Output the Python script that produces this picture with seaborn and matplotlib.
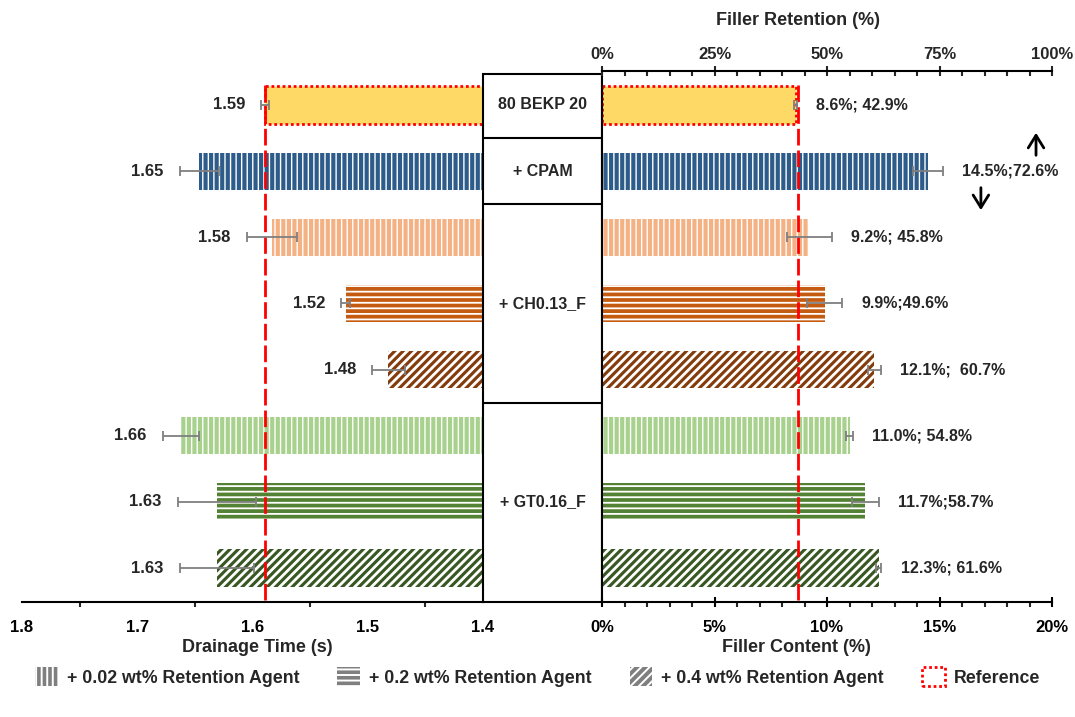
import numpy as np
import pandas as pd
import matplotlib
matplotlib.use("Agg")
import matplotlib.pyplot as plt
import seaborn as sns
from matplotlib.patches import Patch, Rectangle
from matplotlib.ticker import MultipleLocator, FuncFormatter

# ---------------- data ----------------
row_ids = ["ref", "cpam", "ch_002", "ch_02", "ch_04", "gt_002", "gt_02", "gt_04"]
group_labels = ["80 BEKP 20", "+ CPAM", "+ CH0.13_F", "+ GT0.16_F"]
group_spans = [(0, 0), (1, 1), (2, 4), (5, 7)]
drain_time = [1.589, 1.646, 1.583, 1.519, 1.482, 1.662, 1.631, 1.631]
drain_err = [0.0035, 0.017, 0.022, 0.004, 0.014, 0.016, 0.034, 0.032]
filler_content = [8.6, 14.5, 9.2, 9.9, 12.1, 11.0, 11.7, 12.3]
filler_err = [0.05, 0.67, 1.0, 0.77, 0.3, 0.15, 0.6, 0.12]
filler_retention = [42.9, 72.6, 45.8, 49.6, 60.7, 54.8, 58.7, 61.6]
label_seps = ["; ", ";", "; ", ";", ";  ", "; ", ";", "; "]
bar_colors = ["#FFD966", "#2E5C8A", "#F4B183", "#C55A11", "#843C0C",
              "#A9D18E", "#548235", "#385723"]
bar_hatches = [None, "|||", "|||", "---", "////", "|||", "---", "////"]
legend_labels = ["+ 0.02 wt% Retention Agent", "+ 0.2 wt% Retention Agent",
                 "+ 0.4 wt% Retention Agent", "Reference"]
legend_hatches = ["|||", "---", "////"]
ref_time = 1.589
ref_content = 8.7
time_ticks = [1.8, 1.7, 1.6, 1.5, 1.4]
content_ticks = [0, 5, 10, 15, 20]
retention_ticks = [0, 25, 50, 75, 100]

# ---------------- style ----------------
sns.set_style("white")
plt.rcParams["font.family"] = ["Liberation Sans", "DejaVu Sans"]
plt.rcParams["font.weight"] = "bold"
plt.rcParams["hatch.linewidth"] = 1.4

hatch_lw = {"|||": 1.0, "---": 1.3, "////": 2.0}

W, H = 1075, 717
fig = plt.figure(figsize=(W / 100, H / 100), dpi=100)
ax_bottom = (H - 602) / H
ax_height = (602 - 71) / H
ax_l = fig.add_axes([22 / W, ax_bottom, (483 - 22) / W, ax_height])
ax_c = fig.add_axes([483 / W, ax_bottom, (602 - 483) / W, ax_height])
ax_r = fig.add_axes([602 / W, ax_bottom, (1052 - 602) / W, ax_height])

ylim = (7.514, -0.514)
bar_width = 0.56
ypos = np.arange(len(row_ids))

df = pd.DataFrame({"row": row_ids, "time": drain_time, "content": filler_content})


def style_bars(ax):
    patches = sorted(ax.patches, key=lambda p: p.get_y())
    for p, col, h in zip(patches, bar_colors, bar_hatches):
        p.set_facecolor(col)
        if h is None:
            p.set_edgecolor("#FF0000")
            p.set_linestyle((0, (1, 1)))
            p.set_linewidth(2)
        else:
            p.set_edgecolor("white")
            p.set_linewidth(0)
            p.set_hatch(h)
            if hasattr(p, "set_hatch_linewidth"):
                p.set_hatch_linewidth(hatch_lw[h])


# ---------------- left: drainage time ----------------
sns.barplot(data=df, x="time", y="row", hue="row", order=row_ids, hue_order=row_ids,
            palette=bar_colors, legend=False, errorbar=None, orient="h",
            width=bar_width, saturation=1, ax=ax_l)
style_bars(ax_l)
ax_l.errorbar(drain_time, ypos, xerr=drain_err, fmt="none", ecolor="#7F7F7F",
              elinewidth=1.3, capsize=3.5, capthick=1.3, zorder=6)
ax_l.axvline(ref_time, ymin=0.004, ymax=0.983, color="#FF0000", lw=2,
             linestyle=(0, (6, 1.8)), zorder=5)
for t, e, y in zip(drain_time, drain_err, ypos):
    ax_l.text(t + e + 0.014, y, f"{t:.2f}", ha="right", va="center",
              fontsize=12, fontweight="bold")
ax_l.set_xlim(1.8, 1.4)
ax_l.set_ylim(*ylim)
ax_l.set_yticks([])
ax_l.set_ylabel("")
ax_l.set_xticks(time_ticks)
ax_l.xaxis.set_major_formatter(FuncFormatter(lambda v, p: f"{v:.1f}"))
ax_l.xaxis.set_minor_locator(MultipleLocator(0.05))
ax_l.set_xlabel("Drainage Time (s)", fontsize=13, fontweight="bold", labelpad=3, x=0.51)
for s in ["top", "left", "right"]:
    ax_l.spines[s].set_visible(False)
ax_l.spines["bottom"].set_linewidth(1.5)
ax_l.spines["bottom"].set_color("black")

# ---------------- right: filler content ----------------
sns.barplot(data=df, x="content", y="row", hue="row", order=row_ids, hue_order=row_ids,
            palette=bar_colors, legend=False, errorbar=None, orient="h",
            width=bar_width, saturation=1, ax=ax_r)
style_bars(ax_r)
ax_r.errorbar(filler_content, ypos, xerr=filler_err, fmt="none", ecolor="#7F7F7F",
              elinewidth=1.3, capsize=3.5, capthick=1.3, zorder=6)
ax_r.axvline(ref_content, ymin=0.004, ymax=0.983, color="#FF0000", lw=2,
             linestyle=(0, (6, 1.8)), zorder=5)
for c, e, r, sep, y in zip(filler_content, filler_err, filler_retention, label_seps, ypos):
    ax_r.text(c + e + 0.85, y, f"{c:.1f}%{sep}{r:.1f}%", ha="left", va="center",
              fontsize=11.5, fontweight="bold")
ax_r.set_xlim(0, 20)
ax_r.set_ylim(*ylim)
ax_r.set_yticks([])
ax_r.set_ylabel("")
ax_r.set_xticks(content_ticks)
ax_r.xaxis.set_major_formatter(FuncFormatter(lambda v, p: f"{v:.0f}%"))
ax_r.xaxis.set_minor_locator(MultipleLocator(1))
ax_r.set_xlabel("Filler Content (%)", fontsize=13, fontweight="bold", labelpad=3, x=0.433)
for s in ["top", "right"]:
    ax_r.spines[s].set_visible(False)
for s in ["bottom", "left"]:
    ax_r.spines[s].set_linewidth(1.5)
    ax_r.spines[s].set_color("black")

# arrows next to CPAM label
arrow_style = "->,head_length=0.45,head_width=0.28"
ax_r.annotate("", xy=(19.29, 0.42), xytext=(19.29, 0.76),
              arrowprops=dict(arrowstyle=arrow_style, lw=2, color="black",
                              mutation_scale=20, shrinkA=0, shrinkB=0))
ax_r.annotate("", xy=(16.84, 1.59), xytext=(16.84, 1.25),
              arrowprops=dict(arrowstyle=arrow_style, lw=2, color="black",
                              mutation_scale=20, shrinkA=0, shrinkB=0))

# top axis: filler retention
ax_t = ax_r.twiny()
ax_t.set_xlim(0, 100)
ax_t.set_xticks(retention_ticks)
ax_t.xaxis.set_major_formatter(FuncFormatter(lambda v, p: f"{v:.0f}%"))
ax_t.xaxis.set_minor_locator(MultipleLocator(5))
ax_t.set_xlabel("Filler Retention (%)", fontsize=13, fontweight="bold", labelpad=16, x=0.435)
for s in ["bottom", "left", "right"]:
    ax_t.spines[s].set_visible(False)
ax_t.spines["top"].set_linewidth(1.5)
ax_t.spines["top"].set_color("black")

for ax in (ax_l, ax_r):
    ax.tick_params(axis="x", which="major", direction="inout", length=7, width=1.5,
                   labelsize=12, pad=9.5, colors="black")
    ax.tick_params(axis="x", which="minor", direction="out", length=3.5, width=1.5,
                   bottom=True)
ax_t.tick_params(axis="x", which="major", direction="inout", length=7, width=1.5,
                 labelsize=12, pad=3)
ax_t.tick_params(axis="x", which="minor", direction="in", length=3.5, width=1.5, top=True)

# ---------------- center: group box ----------------
ax_c.set_xlim(0, 1)
ax_c.set_ylim(*ylim)
ax_c.set_axis_off()
box_top = -0.47
ax_c.add_patch(Rectangle((0, box_top), 1, ylim[0] - box_top, fill=False,
                         edgecolor="black", lw=1.5, clip_on=False))
for (a, b), lab in zip(group_spans, group_labels):
    ax_c.text(0.5, (a + b) / 2, lab, ha="center", va="center",
              fontsize=11.5, fontweight="bold")
for (a, b) in group_spans[:-1]:
    ax_c.plot([0, 1], [b + 0.5, b + 0.5], color="black", lw=1.5, clip_on=False)

# ---------------- legend ----------------
handles = []
for h in legend_hatches:
    p = Patch(facecolor="#7F7F7F", edgecolor="white", linewidth=0, hatch=h)
    handles.append(p)
handles.append(Patch(facecolor="white", edgecolor="#FF0000", linewidth=2,
                     linestyle=(0, (1, 1))))
fig.legend(handles, legend_labels, loc="center", bbox_to_anchor=(0.5, (H - 677) / H),
           ncol=4, frameon=False, handlelength=1.27, handleheight=1.27,
           columnspacing=2.15, handletextpad=0.5, prop={"weight": "bold", "size": 12.8})

fig.savefig("out.png", dpi=100)
